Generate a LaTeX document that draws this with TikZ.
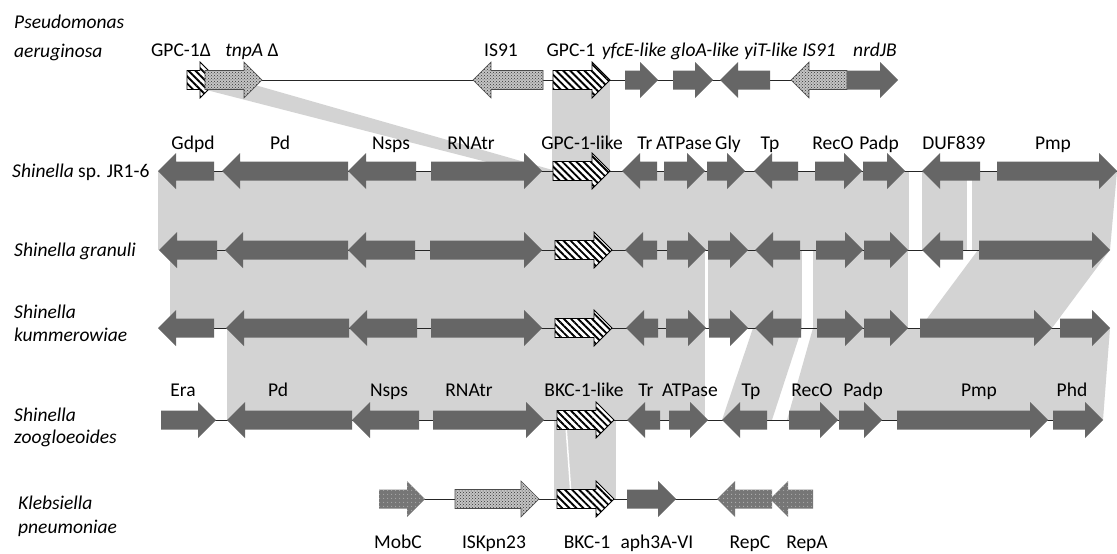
\documentclass[tikz,border=0pt]{standalone}
\usepackage{fontspec}
\setmainfont{Carlito}
\usetikzlibrary{patterns,patterns.meta}
\definecolor{genegray}{RGB}{102,102,102}
\definecolor{bandgray}{RGB}{211,211,211}
\definecolor{specklight}{RGB}{196,196,196}
\definecolor{darkdot}{RGB}{118,118,118}
\newcommand{\GeneR}[4][gsolid]{\path[#1] (#2,#4-9.5) -- (#3-18,#4-9.5) -- (#3-18,#4-18) -- (#3,#4) -- (#3-18,#4+18) -- (#3-18,#4+9.5) -- (#2,#4+9.5) -- cycle;}
\newcommand{\GeneL}[4][gsolid]{\path[#1] (#3,#4-9.5) -- (#2+18,#4-9.5) -- (#2+18,#4-18) -- (#2,#4) -- (#2+18,#4+18) -- (#2+18,#4+9.5) -- (#3,#4+9.5) -- cycle;}
\newcommand{\Lab}[4]{\node[lab] (#1) at (#2,#3) {#4};}
\begin{document}
\begin{tikzpicture}[x=1pt,y=-1pt,
  gsolid/.style={fill=genegray},
  ghatch/.style={preaction={fill=white}, pattern={Lines[angle=-45,distance=5pt,line width=1.9pt]}, pattern color=black, draw=black, line width=0.8pt},
  gspeck/.style={preaction={fill=specklight}, pattern=crosshatch dots, pattern color=black!80, draw=black!70, line width=0.6pt},
  gdark/.style={preaction={fill=darkdot}, pattern={Dots[distance=4pt,radius=0.6pt]}, pattern color=gray!45},
  backbone/.style={draw=black!85, line width=1pt},
  band/.style={fill=bandgray},
  lab/.style={font=\fontsize{19.5}{23}\selectfont, inner sep=0pt, anchor=base},
  splab/.style={font=\fontsize{19.5}{23}\selectfont, inner sep=0pt, anchor=base west}]
\useasboundingbox (0,0) rectangle (1117,554);

% ---------- homology bands ----------
\path[band] (187,85) -- (255,85) -- (556,171) -- (522,171) -- cycle;
\path[band] (552,80) rectangle (610,171);
% rows 2-3
\path[band] (158,171) rectangle (909,250);
\path[band] (922,171) rectangle (967,250);
\path[band] (972,171) -- (1117,171) -- (1110,250) -- (972,250) -- cycle;
% rows 3-4
\path[band] (170,250) rectangle (705,328);
\path[band] (708,250) rectangle (802,328);
\path[band] (813,250) rectangle (908,328);
\path[band] (978,250) -- (1110,250) -- (1052,328) -- (920,328) -- cycle;
% rows 4-5
\path[band] (227,328) rectangle (705,420);
\path[band] (753,328) -- (802,328) -- (772,420) -- (722,420) -- cycle;
\path[band] (813,328) -- (1110,328) -- (1103,420) -- (787,420) -- cycle;
% rows 5-6
\path[band] (554,420) rectangle (616,499);
\draw[white, line width=1.5pt] (566,426) -- (571,495);

% ---------- backbones ----------
\draw[backbone] (200,80) -- (890,80);
\draw[backbone] (160,171) -- (1117,171);
\draw[backbone] (160,250) -- (1108,250);
\draw[backbone] (160,328) -- (1108,328);
\draw[backbone] (165,420) -- (1100,420);
\draw[backbone] (385,499) -- (810,499);

% ---------- row 1: Pseudomonas aeruginosa ----------
\GeneR[ghatch]{187}{218}{80}
\GeneR[gspeck]{205}{262}{80}
\GeneL[gspeck]{473}{543}{80}
\GeneR[ghatch]{553}{610}{80}
\GeneR{625}{658}{80}
\GeneR{673}{713}{80}
\GeneL{720}{770}{80}
\GeneL[gspeck]{791}{847}{80}
\GeneR{847}{898}{80}

% ---------- row 2: Shinella sp. JR1-6 ----------
\GeneL{158}{214}{171}
\GeneL{222}{348}{171}
\GeneL{348}{416}{171}
\GeneR{431}{542}{171}
\GeneR[ghatch]{553}{610}{171}
\GeneL{622}{657}{171}
\GeneR{664}{705}{171}
\GeneR{707}{745}{171}
\GeneL{754}{798}{171}
\GeneR{815}{862}{171}
\GeneR{863}{905}{171}
\GeneL{922}{980}{171}
\GeneR{997}{1117}{171}

% ---------- row 3: Shinella granuli ----------
\GeneL{159}{217}{250}
\GeneL{225}{348}{250}
\GeneL{348}{415}{250}
\GeneR{430}{542}{250}
\GeneR[ghatch]{555}{612}{250}
\GeneL{625}{657}{250}
\GeneR{667}{706}{250}
\GeneR{708}{748}{250}
\GeneL{755}{800}{250}
\GeneR{816}{863}{250}
\GeneR{864}{908}{250}
\GeneL{922}{963}{250}
\GeneR{979}{1110}{250}

% ---------- row 4: Shinella kummerowiae ----------
\GeneL{158}{214}{328}
\GeneL{226}{349}{328}
\GeneL{349}{417}{328}
\GeneR{431}{542}{328}
\GeneR[ghatch]{555}{612}{328}
\GeneL{626}{658}{328}
\GeneR{666}{706}{328}
\GeneR{709}{748}{328}
\GeneL{755}{801}{328}
\GeneR{817}{863}{328}
\GeneR{864}{908}{328}
\GeneR{920}{1052}{328}
\GeneR{1060}{1110}{328}

% ---------- row 5: Shinella zoogloeoides ----------
\GeneR{161}{216}{420}
\GeneL{227}{352}{420}
\GeneL{352}{419}{420}
\GeneR{433}{544}{420}
\GeneR[ghatch]{557}{614}{420}
\GeneL{627}{660}{420}
\GeneR{669}{708}{420}
\GeneL{722}{767}{420}
\GeneR{789}{838}{420}
\GeneR{839}{882}{420}
\GeneR{897}{1048}{420}
\GeneR{1053}{1103}{420}

% ---------- row 6: Klebsiella pneumoniae ----------
\GeneR[gdark]{379}{425}{499}
\GeneR[gspeck]{455}{539}{499}
\GeneR[ghatch]{557}{614}{499}
\GeneR{627}{676}{499}
\GeneL[gdark]{717}{772}{499}
\GeneL[gdark]{770}{813}{499}

% ---------- species labels ----------
\node[splab] (sp-pa1) at (14,28) {\textit{Pseudomonas}};
\node[splab] (sp-pa2) at (14,57) {\textit{aeruginosa}};
\node[splab] (sp-jr) at (12,177) {\textit{Shinella} sp. JR1-6};
\node[splab] (sp-gr) at (14,256) {\textit{Shinella granuli}};
\node[splab] (sp-ku1) at (14,318) {\textit{Shinella}};
\node[splab] (sp-ku2) at (14,341) {\textit{kummerowiae}};
\node[splab] (sp-zo1) at (14,421) {\textit{Shinella}};
\node[splab] (sp-zo2) at (14,443) {\textit{zoogloeoides}};
\node[splab] (sp-kp1) at (18,509) {\textit{Klebsiella}};
\node[splab] (sp-kp2) at (18,533) {\textit{pneumoniae}};

% ---------- gene labels ----------
\Lab{l1a}{181}{56}{GPC-1Δ}
\Lab{l1b}{252}{56}{\textit{tnpA} Δ}
\Lab{l1c}{501}{56}{IS91}
\Lab{l1d}{571}{56}{GPC-1}
\Lab{l1e}{634}{56}{\textit{yfcE-like}}
\Lab{l1f}{705}{56}{\textit{gloA-like}}
\Lab{l1g}{771}{56}{\textit{yiT-like}}
\Lab{l1h}{819}{56}{\textit{IS91}}
\Lab{l1i}{875}{56}{\textit{nrdJB}}

\Lab{l2a}{193}{149}{Gdpd}
\Lab{l2b}{280}{149}{Pd}
\Lab{l2c}{391}{149}{Nsps}
\Lab{l2d}{471}{149}{RNAtr}
\Lab{l2e}{582}{149}{GPC-1-like}
\Lab{l2f}{645}{149}{Tr}
\Lab{l2g}{684}{149}{ATPase}
\Lab{l2h}{728}{149}{Gly}
\Lab{l2i}{770}{149}{Tp}
\Lab{l2j}{833}{149}{RecO}
\Lab{l2k}{879}{149}{Padp}
\Lab{l2l}{954}{149}{DUF839}
\Lab{l2m}{1053}{149}{Pmp}

\Lab{l5a}{183}{396}{Era}
\Lab{l5b}{278}{396}{Pd}
\Lab{l5c}{389}{396}{Nsps}
\Lab{l5d}{469}{396}{RNAtr}
\Lab{l5e}{584}{396}{BKC-1-like}
\Lab{l5f}{646}{396}{Tr}
\Lab{l5g}{690}{396}{ATPase}
\Lab{l5h}{751}{396}{Tp}
\Lab{l5i}{812}{396}{RecO}
\Lab{l5j}{863}{396}{Padp}
\Lab{l5k}{979}{396}{Pmp}
\Lab{l5l}{1072}{396}{Phd}

\Lab{l6a}{398}{548}{MobC}
\Lab{l6b}{494}{548}{ISKpn23}
\Lab{l6c}{587}{548}{BKC-1}
\Lab{l6d}{657}{548}{aph3A-VI}
\Lab{l6e}{750}{548}{RepC}
\Lab{l6f}{807}{548}{RepA}
\end{tikzpicture}
\end{document}
